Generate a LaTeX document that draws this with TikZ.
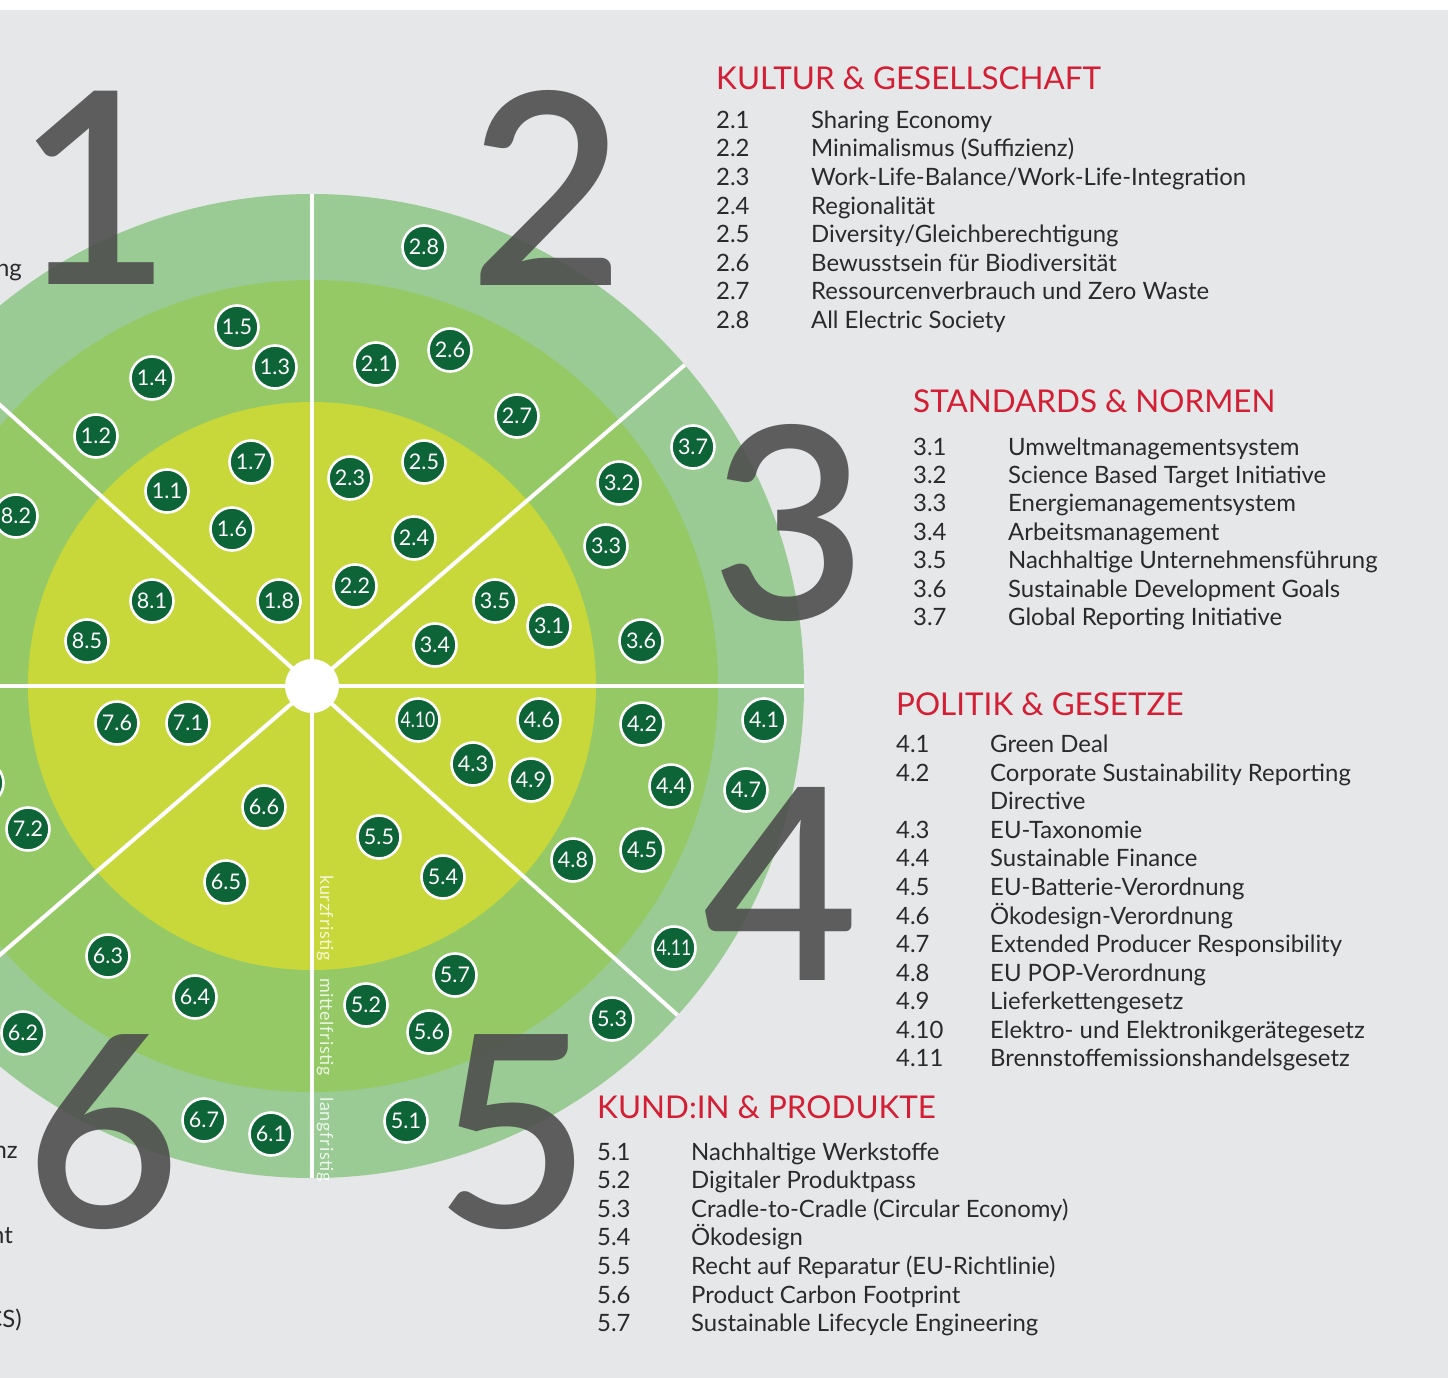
\documentclass[tikz,border=0pt]{standalone}
\usepackage{fontspec}
\usepackage{graphicx}
\setmainfont{Lato}
\newfontfamily\sidefam[LetterSpace=4]{Lato}
\IfFontExistsTF{Lato Semibold}
  {\newfontfamily\bigfam{Lato Semibold}}
  {\newfontfamily\bigfam{Lato}[FakeBold=1.2]}
\usetikzlibrary{calc}

\definecolor{bggray}{HTML}{E6E7E9}
\definecolor{ringout}{HTML}{9BCB94}
\definecolor{ringmid}{HTML}{95C965}
\definecolor{ringin}{HTML}{C8D83A}
\definecolor{badgegreen}{HTML}{0D6437}
\definecolor{biggray}{HTML}{4D4D4D}
\definecolor{headred}{HTML}{D41E34}
\definecolor{itemgray}{HTML}{2A2A2C}

\newcommand\fNode{\fontsize{21.5}{21.5}\selectfont}
\newcommand\fItem{\fontsize{23.9}{28}\selectfont}
\newcommand\fHead{\fontsize{31.4}{36}\selectfont}
\newcommand\fBig{\bigfam\fontsize{268}{268}\selectfont}
\newcommand\fSide{\sidefam\fontsize{18}{18}\selectfont}

\tikzset{
  badge/.style={circle, fill=badgegreen, draw=white, line width=2.6pt,
    minimum size=43pt, inner sep=0pt, text=white, font=\fNode},
  bignum/.style={anchor=base, inner sep=0pt, text=biggray, text opacity=0.89, font=\fBig},
  head/.style={anchor=base west, inner sep=0pt, text=headred, font=\fHead},
  item/.style={anchor=base west, inner sep=0pt, text=itemgray, font=\fItem},
  side/.style={anchor=base west, inner sep=0pt, rotate=-90, text=white,
    text opacity=0.82, font=\fSide},
  divider/.style={draw=white, line width=4pt},
}

\begin{document}
\begin{tikzpicture}[x=1pt,y=-1pt]
\useasboundingbox (0,0) rectangle (1448,1378);

% page background
\fill[bggray] (0,0) rectangle (1448,1378);
\fill[white] (0,0) rectangle (1448,10.5);

% the three time horizons as concentric discs
\coordinate (c) at (312,686);
\fill[ringout] (c) circle (492);
\fill[ringmid] (c) circle (406);
\fill[ringin]  (c) circle (284);

% sector dividers
\coordinate (top) at (312,194);
\coordinate (bot) at (312,1178);
\coordinate (lft) at (-190,686);
\coordinate (rgt) at (804,686);
\coordinate (ur) at (684.7,364.9);
\coordinate (ll) at (-60.7,1007.1);
\coordinate (ul) at (-53.6,356.8);
\coordinate (lr) at (677.6,1015.2);
\draw[divider] (top) -- (bot);
\draw[divider] (lft) -- (rgt);
\draw[divider] (ur) -- (ll);
\draw[divider] (ul) -- (lr);
\fill[white] (c) circle (27);

% horizon labels along the vertical divider
\node[side] (kurz)   at (320,875)  {kurzfristig};
\node[side] (mittel) at (320,978)  {mittelfristig};
\node[side] (lang)   at (320,1097) {langfristig};

% big field numbers
\node[bignum] (d1) at (94,284) {1};
\node[bignum] (d2) at (547,285) {2};
\node[bignum] (d3) at (789,619) {3};
\node[bignum] (d4) at (781,980) {4};
\node[bignum] (d5) at (513,1227) {5};
\node[bignum] (d6) at (103,1227) {6};

% topic badges
\foreach \nm/\lab/\x/\y in {
  p15/1.5/237/327, p13/1.3/275/367, p14/1.4/152/378, p12/1.2/96/436,
  p17/1.7/251/462, p11/1.1/167/491, p16/1.6/232/529, p18/1.8/279/601,
  p82/8.2/16/516, p81/8.1/152/601, p85/8.5/87/641,
  p28/2.8/424/247, p21/2.1/376/364, p26/2.6/450/350, p27/2.7/517/416,
  p23/2.3/350/478, p25/2.5/424/462, p24/2.4/414/538, p22/2.2/355/586,
  p37/3.7/693/447, p32/3.2/619/483, p33/3.3/606/546, p35/3.5/495/601,
  p31/3.1/549/626, p34/3.4/435/645, p36/3.6/641/641,
  p46/4.6/539/720, p43/4.3/473/764, p49/4.9/531/780, p42/4.2/642/724,
  p41/4.1/764/720, p44/4.4/671/786, p47/4.7/746/790, p45/4.5/642/850,
  p48/4.8/573/860,
  p55/5.5/379/837, p54/5.4/443/877, p57/5.7/455/975, p52/5.2/366/1005,
  p56/5.6/429/1032, p53/5.3/612/1019, p51/5.1/406/1121,
  p66/6.6/264/807, p65/6.5/226/882, p63/6.3/108/956, p64/6.4/195/997,
  p62/6.2/23/1033, p67/6.7/204/1120, p61/6.1/271/1134,
  p76/7.6/117/723, p71/7.1/188/723, p72/7.2/28/829}
  \node[badge] (\nm) at (\x,\y) {\lab};
\node[badge] (p410) at (418,720) {\scalebox{0.82}[1]{4.10}};
\node[badge] (p411) at (674,948) {\scalebox{0.82}[1]{4.11}};
\node[badge] (p7x) at (-18,783) {};

% remnants of the left-hand lists
\node[item, anchor=base east] (l1) at (22,276) {ng};
\node[item, anchor=base east] (l6) at (18,1158) {nz};
\node[item, anchor=base east] (l7) at (13,1243) {nt};
\node[item, anchor=base east] (l8) at (22,1327) {CS)};

% field 2
\node[head] (h2) at (716,90) {KULTUR \& GESELLSCHAFT};
\foreach \t [count=\i] in {Sharing Economy, Minimalismus (Suffizienz),
  Work-Life-Balance/Work-Life-Integration, Regionalität,
  Diversity/Gleichberechtigung, Bewusstsein für Biodiversität,
  Ressourcenverbrauch und Zero Waste, All Electric Society}
  \node[item] (r2-\i) at (716,{128.3+(\i-1)*28.57}) {\makebox[95pt][l]{2.\i}\t};

% field 3
\node[head] (h3) at (913,412) {STANDARDS \& NORMEN};
\foreach \t [count=\i] in {Umweltmanagementsystem, Science Based Target Initiative,
  Energiemanagementsystem, Arbeitsmanagement, Nachhaltige Unternehmensführung,
  Sustainable Development Goals, Global Reporting Initiative}
  \node[item] (r3-\i) at (913,{455+(\i-1)*28.45}) {\makebox[95pt][l]{3.\i}\t};

% field 4
\node[head] (h4) at (896,715) {POLITIK \& GESETZE};
\foreach \n/\t [count=\i from 0] in {4.1/Green Deal,
  4.2/Corporate Sustainability Reporting, /Directive, 4.3/EU-Taxonomie,
  4.4/Sustainable Finance, 4.5/EU-Batterie-Verordnung,
  4.6/Ökodesign-Verordnung, 4.7/Extended Producer Responsibility,
  4.8/EU POP-Verordnung, 4.9/Lieferkettengesetz,
  4.10/Elektro- und Elektronikgerätegesetz, 4.11/Brennstoffemissionshandelsgesetz}
  \node[item] (r4-\i) at (896,{752.7+\i*28.55}) {\makebox[94pt][l]{\n}\t};

% field 5
\node[head] (h5) at (597,1118) {KUND:IN \& PRODUKTE};
\foreach \t [count=\i] in {Nachhaltige Werkstoffe, Digitaler Produktpass,
  Cradle-to-Cradle (Circular Economy), Ökodesign,
  Recht auf Reparatur (EU-Richtlinie), Product Carbon Footprint,
  Sustainable Lifecycle Engineering}
  \node[item] (r5-\i) at (597,{1160+(\i-1)*28.6}) {\makebox[94pt][l]{5.\i}\t};

\end{tikzpicture}
\end{document}
